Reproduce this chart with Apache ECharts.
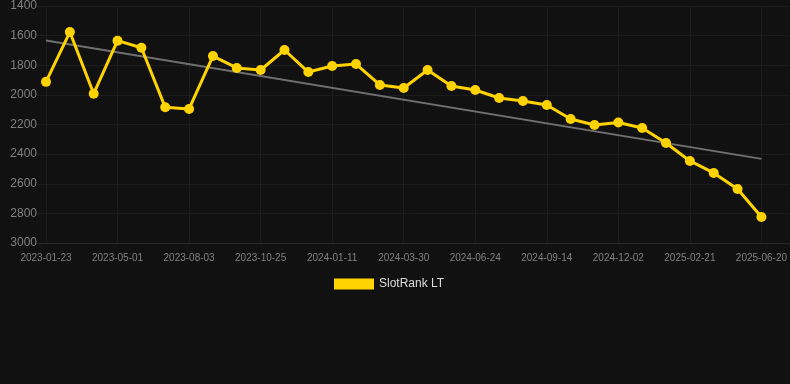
<!DOCTYPE html>
<html><head><meta charset="utf-8">
<script src="https://cdn.jsdelivr.net/npm/echarts@6/dist/echarts.min.js"></script>
<style>html,body{margin:0;padding:0;background:#111111;}#c{width:790px;height:384px;}</style>
</head><body><div id="c"></div>
<script>
const categories = ['2023-01-23','2023-02-27','2023-04-03','2023-05-01','2023-06-05','2023-07-03','2023-08-03','2023-09-01','2023-09-28','2023-10-25','2023-11-22','2023-12-18','2024-01-11','2024-02-07','2024-03-04','2024-03-30','2024-04-27','2024-05-26','2024-06-24','2024-07-22','2024-08-18','2024-09-14','2024-10-10','2024-11-06','2024-12-02','2024-12-29','2025-01-25','2025-02-21','2025-03-30','2025-05-10','2025-06-20'];
const rankValues = [1912,1576,1992,1634,1682,2084,2095,1738,1818,1832,1697,1846,1805,1792,1933,1954,1832,1940,1967,2021,2041,2068,2163,2203,2186,2224,2325,2446,2527,2635,2824];
const trendValues = [1633,null,null,null,null,null,null,null,null,null,null,null,null,null,null,null,null,null,null,null,null,null,null,null,null,null,null,null,null,null,2432];
const yTicks = {min:1400, max:3000, interval:200};
const seriesName = 'SlotRank LT';

const font = 'Liberation Sans, Arial, sans-serif';
const chart = echarts.init(document.getElementById('c'));
chart.setOption({
  backgroundColor:'#111111',
  animation:false,
  grid:[
    {left:46,right:28,top:6,bottom:141},
    {left:37,right:0,top:6,bottom:141}
  ],
  legend:{data:[{name:seriesName,icon:'rect'}],top:273,left:329,itemWidth:40,itemHeight:11,itemGap:6,
    textStyle:{color:'#dddddd',fontSize:12,fontFamily:font}},
  xAxis:[
    {type:'category',gridIndex:0,data:categories,boundaryGap:false,
      axisLine:{show:false},axisTick:{show:false},
      axisLabel:{interval:2,color:'#808080',fontSize:10,margin:10,fontFamily:font},
      splitLine:{show:true,interval:2,lineStyle:{color:'#1c1c1c',width:1}}},
    {type:'value',gridIndex:1,min:0,max:1,
      axisLine:{show:true,lineStyle:{color:'#2a2a2a'}},axisTick:{show:false},
      axisLabel:{show:false},splitLine:{show:false}}
  ],
  yAxis:[
    {type:'value',gridIndex:0,inverse:true,min:yTicks.min,max:yTicks.max,interval:yTicks.interval,
      axisLine:{show:false},axisTick:{show:false},
      axisLabel:{color:'#808080',fontSize:12,margin:9,fontFamily:font,formatter:function(v){return String(v);}},
      splitLine:{show:false}},
    {type:'value',gridIndex:1,inverse:true,min:yTicks.min,max:yTicks.max,interval:yTicks.interval,
      axisLine:{show:false},axisTick:{show:false},axisLabel:{show:false},
      splitLine:{show:true,lineStyle:{color:'#1c1c1c',width:1}}}
  ],
  series:[
    {name:'trend',type:'line',xAxisIndex:0,yAxisIndex:0,data:trendValues,connectNulls:true,symbol:'none',
      lineStyle:{color:'#707070',width:2},z:3,silent:true},
    {name:seriesName,type:'line',xAxisIndex:0,yAxisIndex:0,data:rankValues,symbol:'circle',symbolSize:10,
      itemStyle:{color:'#FFD300'},lineStyle:{color:'#FFD300',width:3},z:4}
  ]
});
</script></body></html>
